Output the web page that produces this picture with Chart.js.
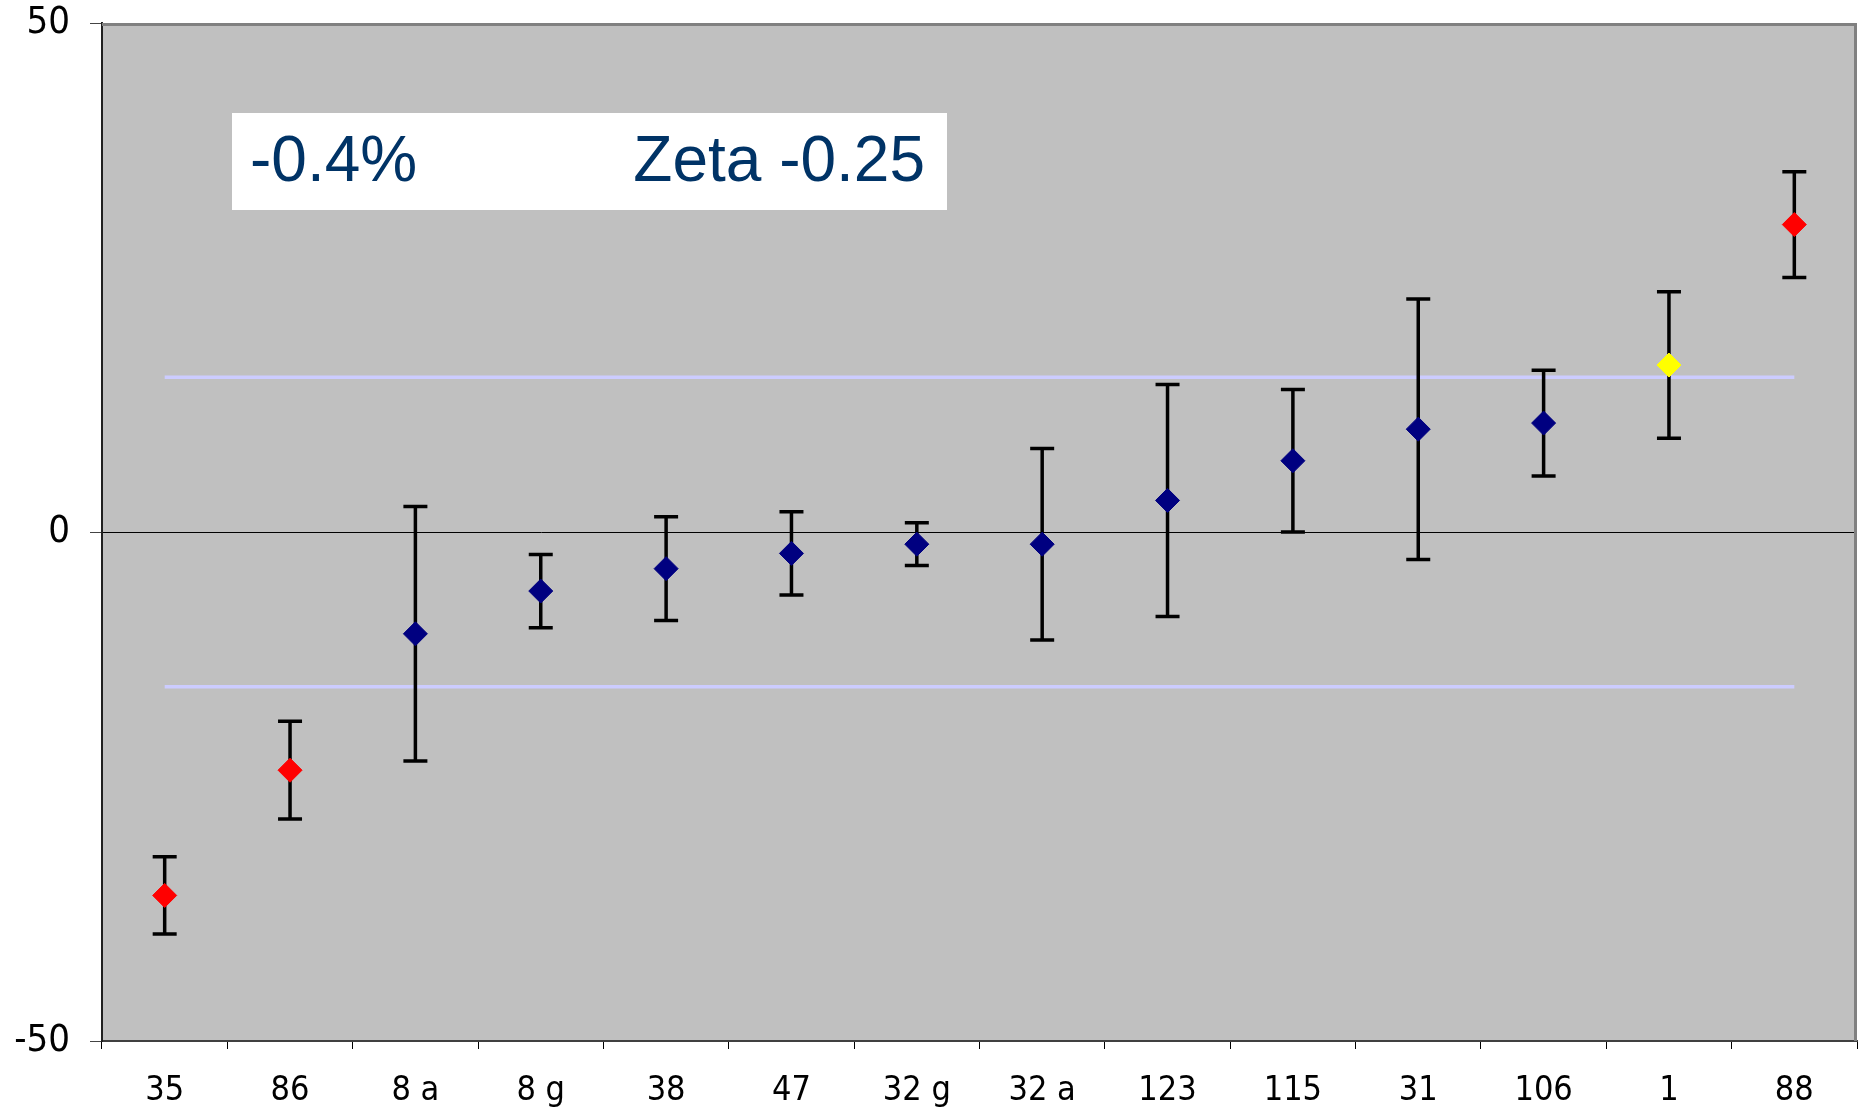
<!DOCTYPE html>
<html>
<head>
<meta charset="utf-8">
<title>Zeta chart</title>
<script src="https://cdn.jsdelivr.net/npm/chart.js@4.4.1/dist/chart.umd.min.js"></script>
<style>
  html, body { margin: 0; padding: 0; background: #fff; overflow: hidden; }
  #zetaChart { display: block; }
</style>
</head>
<body>
<canvas id="zetaChart" width="1863" height="1109"></canvas>
<script>
'use strict';

// data
var categories = ['35', '86', '8 a', '8 g', '38', '47', '32 g', '32 a', '123', '115', '31', '106', '1', '88'];
var values     = [-35.7, -23.4, -10.0, -5.8, -3.6, -2.1, -1.2, -1.2, 3.1, 7.0, 10.1, 10.7, 16.4, 30.2];
var errors     = [3.8, 4.8, 12.5, 3.6, 5.1, 4.1, 2.1, 9.4, 11.4, 7.0, 12.8, 5.2, 7.2, 5.2];
var limitHigh  = [15.2, 15.2, 15.2, 15.2, 15.2, 15.2, 15.2, 15.2, 15.2, 15.2, 15.2, 15.2, 15.2, 15.2];
var limitLow   = [-15.2, -15.2, -15.2, -15.2, -15.2, -15.2, -15.2, -15.2, -15.2, -15.2, -15.2, -15.2, -15.2, -15.2];
var yTicks     = [-50, 0, 50];
var boxLeft    = '-0.4%';
var boxRight   = 'Zeta -0.25';

var markerColors = ['#ff0000', '#ff0000', '#000080', '#000080', '#000080', '#000080', '#000080',
                    '#000080', '#000080', '#000080', '#000080', '#000080', '#ffff00', '#ff0000'];

var TICK_FONT = "'DejaVu Sans Condensed', 'DejaVu Sans', sans-serif";

// grey plot background + frame
var plotBg = {
    id: 'plotBg',
    beforeDraw: function(chart) {
        var a = chart.chartArea, ctx = chart.ctx;
        ctx.save();
        ctx.fillStyle = '#c0c0c0';
        ctx.fillRect(a.left, a.top, a.right - a.left, a.bottom - a.top);
        ctx.restore();
    },
    afterDraw: function(chart) {
        var a = chart.chartArea, ctx = chart.ctx;
        ctx.save();
        ctx.strokeStyle = '#808080';
        ctx.lineWidth = 3;
        ctx.beginPath();
        ctx.moveTo(a.left, a.top + 1.5);
        ctx.lineTo(a.right - 1.5, a.top + 1.5);
        ctx.lineTo(a.right - 1.5, a.bottom);
        ctx.stroke();
        ctx.restore();
    }
};

// error bars, drawn just before the marker dataset
var errorBars = {
    id: 'errorBars',
    beforeDatasetDraw: function(chart, args) {
        if (args.index !== 2) return;
        var ctx = chart.ctx, x = chart.scales.x, y = chart.scales.y;
        ctx.save();
        ctx.strokeStyle = '#000';
        ctx.lineWidth = 3.5;
        ctx.lineCap = 'butt';
        values.forEach(function(v, i) {
            var px = x.getPixelForValue(i);
            var top = y.getPixelForValue(v + errors[i]);
            var bot = y.getPixelForValue(v - errors[i]);
            ctx.beginPath();
            ctx.moveTo(px, top);
            ctx.lineTo(px, bot);
            ctx.moveTo(px - 12, top);
            ctx.lineTo(px + 12, top);
            ctx.moveTo(px - 12, bot);
            ctx.lineTo(px + 12, bot);
            ctx.stroke();
        });
        ctx.restore();
    }
};

// white label box in upper left
var labelBox = {
    id: 'labelBox',
    afterDatasetsDraw: function(chart) {
        var a = chart.chartArea, ctx = chart.ctx;
        var bx = a.left + 130, by = a.top + 90, bw = 715, bh = 97;
        ctx.save();
        ctx.fillStyle = '#fff';
        ctx.fillRect(bx, by, bw, bh);
        ctx.fillStyle = '#003366';
        ctx.font = "64px 'Liberation Sans', Arial, sans-serif";
        ctx.textBaseline = 'middle';
        ctx.textAlign = 'left';
        ctx.fillText(boxLeft, bx + 18, by + bh / 2 + 2);
        ctx.textAlign = 'right';
        ctx.fillText(boxRight, bx + bw - 22, by + bh / 2 + 2);
        ctx.restore();
    }
};

function noOverhang(s) {
    s.paddingTop = 0;
    s.paddingBottom = 0;
    s.paddingLeft = 0;
    s.paddingRight = 0;
}

var ctx = document.getElementById('zetaChart');
var chart = new Chart(ctx.getContext('2d'), {
    type: 'line',
    data: {
        labels: categories,
        datasets: [
            { label: 'upper', data: limitHigh, borderColor: '#ccccff', borderWidth: 3.5, pointRadius: 0, fill: false, order: 3 },
            { label: 'lower', data: limitLow,  borderColor: '#ccccff', borderWidth: 3.5, pointRadius: 0, fill: false, order: 2 },
            { label: 'result', data: values, showLine: false, pointStyle: 'rectRot', pointRadius: 12,
              pointBorderWidth: 1, pointBackgroundColor: markerColors, pointBorderColor: markerColors, order: 1 }
        ]
    },
    options: {
        responsive: false,
        animation: false,
        devicePixelRatio: 1,
        layout: { autoPadding: false, padding: { top: 23, right: 6, left: 0, bottom: 0 } },
        plugins: {
            legend: { display: false },
            tooltip: { enabled: false }
        },
        scales: {
            x: {
                offset: true,
                grid: { offset: true, drawOnChartArea: false, drawTicks: true, tickLength: 8, tickColor: '#000', lineWidth: 1 },
                border: { color: '#404040', width: 2 },
                ticks: { color: '#000', padding: 22, maxRotation: 0, autoSkip: false, font: { family: TICK_FONT, size: 34 } },
                afterFit: function(s) { s.height = 68; noOverhang(s); }
            },
            y: {
                min: -50,
                max: 50,
                afterBuildTicks: function(s) { s.ticks = yTicks.map(function(v) { return { value: v }; }); },
                grid: {
                    color: function(c) { return c.tick && c.tick.value === 0 ? '#000' : 'rgba(0,0,0,0)'; },
                    lineWidth: 1,
                    tickLength: 12,
                    tickColor: '#444'
                },
                border: { color: '#202020', width: 2 },
                ticks: { color: '#000', padding: 20, font: { family: TICK_FONT, size: 38 } },
                afterFit: function(s) { s.width = 102; noOverhang(s); }
            }
        }
    },
    plugins: [plotBg, errorBars, labelBox]
});
</script>
</body>
</html>
